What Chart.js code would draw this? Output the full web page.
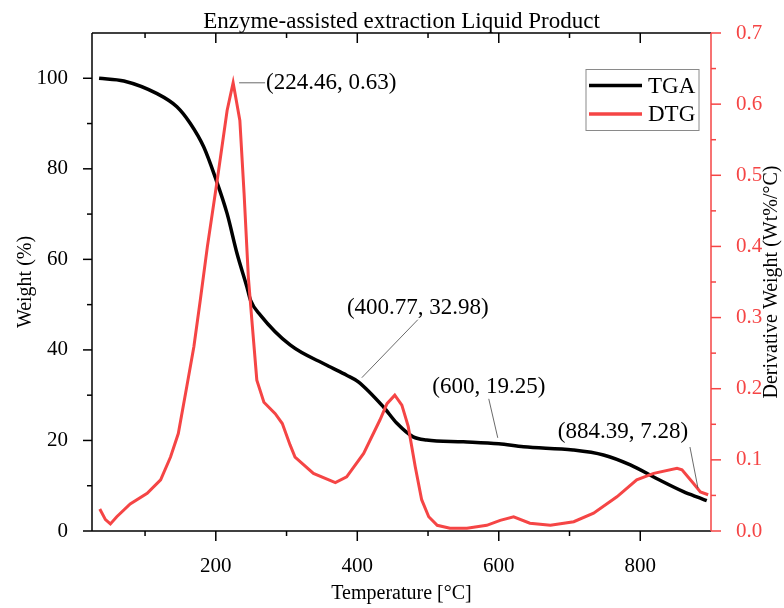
<!DOCTYPE html>
<html>
<head>
<meta charset="utf-8">
<script src="https://cdn.jsdelivr.net/npm/chart.js@4.4.1/dist/chart.umd.min.js"></script>
<style>
    html, body { margin: 0; padding: 0; background: #fff; }
</style>
</head>
<body>
<canvas id="tga-chart" width="784" height="608"></canvas>
<script>
// TGA curve (weight %)
const tgaTemp = [35, 70, 117, 145, 164, 183, 199, 216, 230, 244, 249, 263, 305, 357, 385, 401, 437, 456, 479, 498, 550, 600, 635, 705, 748, 786, 823, 861, 884, 894];
const tgaWeight = [100, 99.4, 96.6, 93.7, 90.0, 84.8, 78.2, 70.1, 61.3, 53.9, 51.0, 47.7, 41.1, 36.6, 34.4, 33.0, 27.4, 23.8, 20.8, 20.1, 19.7, 19.25, 18.6, 17.9, 16.8, 14.6, 11.6, 8.7, 7.3, 6.7];

// DTG curve (derivative weight)
const dtgTemp = [36, 44, 51, 60, 79, 103, 122, 136, 147, 159, 169, 178, 188, 202, 216, 224.5, 234, 240, 246, 251, 258, 268, 284, 294, 305, 312, 338, 369, 385, 409, 432, 442, 453, 463, 472, 482, 491, 501, 513, 531, 555, 583, 602, 621, 644, 673, 706, 734, 767, 795, 819, 852, 859, 875, 885, 896];
const dtgValue = [0.031, 0.016, 0.010, 0.020, 0.038, 0.053, 0.072, 0.104, 0.137, 0.203, 0.259, 0.324, 0.399, 0.493, 0.591, 0.63, 0.577, 0.474, 0.357, 0.296, 0.212, 0.181, 0.165, 0.151, 0.121, 0.104, 0.081, 0.068, 0.076, 0.109, 0.156, 0.179, 0.191, 0.177, 0.147, 0.090, 0.044, 0.020, 0.008, 0.004, 0.004, 0.008, 0.015, 0.020, 0.011, 0.008, 0.013, 0.025, 0.048, 0.072, 0.081, 0.088, 0.086, 0.067, 0.055, 0.051];

// ticks
const xTicks = [200, 400, 600, 800];
const xMinorTicks = [100, 300, 500, 700];
const weightTicks = [0, 20, 40, 60, 80, 100];
const weightMinorTicks = [10, 30, 50, 70, 90];
const dtgTicks = [0, 0.1, 0.2, 0.3, 0.4, 0.5, 0.6, 0.7];
const dtgMinorTicks = [0.05, 0.15, 0.25, 0.35, 0.45, 0.55, 0.65];

// labelled points: [text, x, y, axis]
const annotations = [
    ['(224.46, 0.63)', 224.46, 0.63, 'y1'],
    ['(400.77, 32.98)', 400.77, 32.98, 'y'],
    ['(600, 19.25)', 600, 19.25, 'y'],
    ['(884.39, 7.28)', 884.39, 7.28, 'y']
];

const FONT = '"Liberation Serif", "Times New Roman", serif';
const RED = '#f54545';

function toPoints(xs, ys) {
    return xs.map((x, i) => ({ x: x, y: ys[i] }));
}

const decorPlugin = {
    id: 'decor',
    afterDraw(chart) {
        const { ctx, chartArea: a, scales } = chart;
        const sx = scales.x, sy = scales.y, sy1 = scales.y1;
        const seg = (x0, y0, x1, y1) => { ctx.beginPath(); ctx.moveTo(x0, y0); ctx.lineTo(x1, y1); ctx.stroke(); };
        ctx.save();

        // frame + ticks
        ctx.lineWidth = 1.5;
        ctx.strokeStyle = '#000';
        seg(a.left, a.top, a.right, a.top);
        seg(a.left, a.top, a.left, a.bottom);
        seg(a.left, a.bottom, a.right, a.bottom);
        xTicks.forEach(v => {
            const px = sx.getPixelForValue(v);
            seg(px, a.bottom, px, a.bottom + 10);
            seg(px, a.top, px, a.top + 10);
        });
        xMinorTicks.forEach(v => {
            const px = sx.getPixelForValue(v);
            seg(px, a.bottom, px, a.bottom + 5);
            seg(px, a.top, px, a.top + 5);
        });
        weightTicks.forEach(v => { const py = sy.getPixelForValue(v); seg(a.left - 9, py, a.left, py); });
        weightMinorTicks.forEach(v => { const py = sy.getPixelForValue(v); seg(a.left - 5, py, a.left, py); });

        ctx.strokeStyle = RED;
        seg(a.right, a.top, a.right, a.bottom);
        dtgTicks.forEach(v => { const py = sy1.getPixelForValue(v); seg(a.right, py, a.right + 10, py); });
        dtgMinorTicks.forEach(v => { const py = sy1.getPixelForValue(v); seg(a.right, py, a.right + 5, py); });

        // title and axis titles
        ctx.fillStyle = '#000';
        ctx.textAlign = 'center';
        ctx.textBaseline = 'alphabetic';
        ctx.font = '23px ' + FONT;
        ctx.fillText('Enzyme-assisted extraction Liquid Product', (a.left + a.right) / 2, 28);

        ctx.font = '20px ' + FONT;
        ctx.textBaseline = 'middle';
        ctx.fillText('Temperature [°C]', (a.left + a.right) / 2, 594);
        const midY = (a.top + a.bottom) / 2;
        [[26, 'Weight (%)'], [772, 'Derivative Weight (Wt%/°C)']].forEach(([tx, label]) => {
            ctx.save();
            ctx.translate(tx, midY);
            ctx.rotate(-Math.PI / 2);
            ctx.fillText(label, 0, 0);
            ctx.restore();
        });

        // annotations with leader lines
        const offsets = [
            { tx: 33, ty: 0, l: [6, 0, 32, 0], align: 'left' },
            { tx: 60, ty: -74, l: [4, -4, 60, -62], align: 'center' },
            { tx: -10, ty: -57, l: [-1, -6, -10, -45], align: 'center' },
            { tx: -77, ty: -66, l: [-2, -10, -10, -51], align: 'center' }
        ];
        ctx.font = '23px ' + FONT;
        annotations.forEach(([text, vx, vy, axis], i) => {
            const px = sx.getPixelForValue(vx);
            const py = scales[axis].getPixelForValue(vy);
            const o = offsets[i];
            ctx.strokeStyle = '#444';
            ctx.lineWidth = 0.8;
            seg(px + o.l[0], py + o.l[1], px + o.l[2], py + o.l[3]);
            ctx.textAlign = o.align;
            ctx.fillText(text, px + o.tx, py + o.ty);
        });

        // legend box
        const lx = 586, ly = 69.5, lw = 113, lh = 61;
        ctx.strokeStyle = '#8a8a8a';
        ctx.lineWidth = 1;
        ctx.strokeRect(lx, ly, lw, lh);
        ctx.textAlign = 'left';
        chart.data.datasets.slice().reverse().forEach((ds, i) => {
            const yy = ly + 16 + i * 28.6;
            ctx.strokeStyle = ds.borderColor;
            ctx.lineWidth = 3.5;
            seg(lx + 3, yy, lx + 56, yy);
            ctx.fillText(ds.label, lx + 62, yy + 1);
        });
        ctx.restore();
    }
};

const ctx = document.getElementById('tga-chart').getContext('2d');
const tgaChart = new Chart(ctx, {
    type: 'line',
    data: {
        datasets: [{
            label: 'DTG',
            data: toPoints(dtgTemp, dtgValue),
            yAxisID: 'y1',
            borderColor: RED,
            borderWidth: 3,
            tension: 0,
            pointRadius: 0,
            order: 0
        }, {
            label: 'TGA',
            data: toPoints(tgaTemp, tgaWeight),
            yAxisID: 'y',
            borderColor: '#000',
            borderWidth: 3.5,
            cubicInterpolationMode: 'monotone',
            pointRadius: 0,
            order: 1
        }]
    },
    options: {
        responsive: false,
        animation: false,
        devicePixelRatio: 1,
        layout: { padding: { top: 33, left: 0, right: 0, bottom: 0 } },
        plugins: {
            legend: { display: false },
            tooltip: { enabled: false },
            title: { display: false }
        },
        scales: {
            x: {
                type: 'linear',
                min: 25,
                max: 900,
                grid: { display: false },
                border: { display: false },
                afterBuildTicks: s => { s.ticks = xTicks.map(v => ({ value: v })); },
                afterFit: s => { s.height = 77; },
                ticks: { padding: 15, color: '#000', font: { family: FONT, size: 21 } }
            },
            y: {
                position: 'left',
                min: 0,
                max: 110,
                grid: { display: false },
                border: { display: false },
                afterBuildTicks: s => { s.ticks = weightTicks.map(v => ({ value: v })); },
                afterFit: s => { s.width = 92; },
                ticks: { padding: 16, color: '#000', font: { family: FONT, size: 21 } }
            },
            y1: {
                position: 'right',
                min: 0,
                max: 0.7,
                grid: { display: false },
                border: { display: false },
                afterBuildTicks: s => { s.ticks = dtgTicks.map(v => ({ value: v })); },
                afterFit: s => { s.width = 73; },
                ticks: {
                    padding: 17,
                    color: RED,
                    font: { family: FONT, size: 21 },
                    callback: v => v.toFixed(1)
                }
            }
        }
    },
    plugins: [decorPlugin]
});
</script>
</body>
</html>
